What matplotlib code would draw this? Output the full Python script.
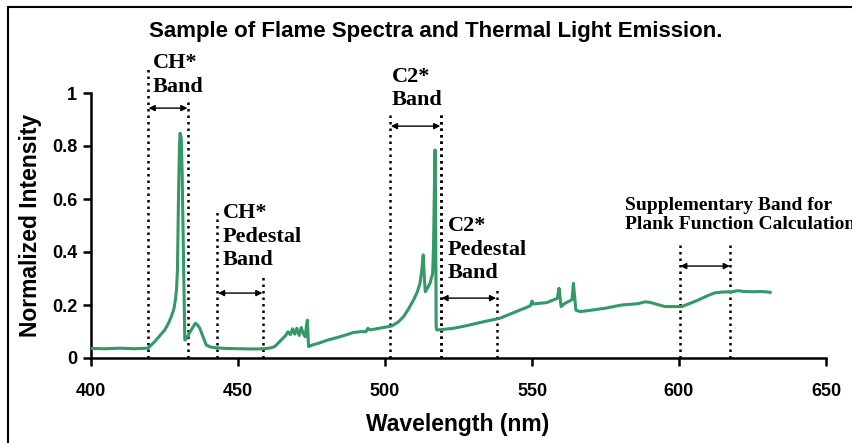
import matplotlib.pyplot as plt
from matplotlib.patches import Rectangle

# spectrum (nm, normalized intensity)
wavelength = [400, 405, 410, 415, 419.4, 421.7, 423.5, 425.1, 426.3, 427.3, 428.2, 428.7,
              429.1, 429.4, 429.8, 430.1, 430.3, 430.7, 431.0, 431.4, 431.9, 432.4,
              432.8, 433.5, 434.1, 435.0, 435.5, 436.2, 437.0, 438.1, 439.2, 440.5,
              442.0, 446, 450, 455, 459, 461, 462.5, 464.7, 466.2, 467.0, 467.8,
              468.6, 469.3, 470.0, 470.8, 471.5, 472.2, 472.9, 473.3, 473.6, 474.0,
              475.5, 477.2, 480.6, 484, 487, 489.2, 492, 493.5, 494.2, 494.9, 498,
              502.3, 504.5, 506.3, 508, 509.7, 511.0, 511.9, 512.5, 513.0, 513.4,
              513.7, 514.5, 515.3, 516.2, 516.5, 516.7, 517.0, 517.2, 517.4, 517.6,
              520, 523.2, 526, 528.9, 534, 539.1, 543, 545.9, 548, 549.5, 550.0, 550.4,
              553, 555, 557.2, 558.6, 559.2, 559.9, 561, 562.4, 563.6, 564.1, 564.9,
              566.3, 569.2, 575, 580.5, 586, 588.5, 590.1, 592, 595.2, 600.9, 603.5,
              606.6, 609.5, 612.2, 615, 617.9, 620, 622, 625.9, 628, 631]
intensity = [0.036, 0.035, 0.037, 0.035, 0.037, 0.062, 0.085, 0.106, 0.130, 0.156, 0.185, 0.219,
             0.260, 0.332, 0.634, 0.800, 0.848, 0.830, 0.700, 0.430, 0.068, 0.072,
             0.080, 0.095, 0.106, 0.122, 0.131, 0.125, 0.112, 0.080, 0.049, 0.042,
             0.039, 0.036, 0.035, 0.034, 0.035, 0.038, 0.043, 0.068, 0.085, 0.099, 0.088,
             0.110, 0.090, 0.112, 0.085, 0.115, 0.092, 0.080, 0.125, 0.143, 0.043,
             0.050, 0.055, 0.068, 0.078, 0.088, 0.096, 0.100, 0.099, 0.112, 0.106, 0.112,
             0.121, 0.136, 0.156, 0.185, 0.219, 0.250, 0.282, 0.330, 0.389, 0.300,
             0.250, 0.265, 0.282, 0.319, 0.420, 0.558, 0.785, 0.600, 0.118, 0.106,
             0.108, 0.112, 0.118, 0.125, 0.138, 0.150, 0.168, 0.181, 0.190, 0.198, 0.215, 0.204,
             0.207, 0.209, 0.219, 0.225, 0.263, 0.194, 0.205, 0.213, 0.220, 0.282, 0.181,
             0.175, 0.179, 0.188, 0.200, 0.205, 0.212, 0.210, 0.204, 0.194, 0.194, 0.205,
             0.219, 0.234, 0.246, 0.249, 0.250, 0.254, 0.251, 0.250, 0.251, 0.248]

# bands: (left edge, right edge, top of left line, top of right line, arrow height)
band_left = [419.4, 443.0, 501.8, 519.0, 600.2]
band_right = [433.0, 458.5, 519.0, 538.0, 617.5]
top_left = [1.10, 0.55, 0.93, 0.93, 0.435]
top_right = [0.975, 0.315, 0.93, 0.26, 0.435]
arrow_y = [0.943, 0.245, 0.875, 0.226, 0.347]

labels = ["CH*\nBand", "CH*\nPedestal\nBand", "C2*\nBand", "C2*\nPedestal\nBand",
          "Supplementary Band for\nPlank Function Calculation"]
label_x = [421.0, 444.8, 502.3, 521.3, 581.6]
label_y = [1.15, 0.585, 1.10, 0.536, 0.608]
label_size = [16, 16, 16, 16, 14]
label_spacing = [1.25, 1.25, 1.25, 1.25, 1.15]

sans = "Liberation Sans"
serif = "Liberation Serif"

fig = plt.figure(figsize=(8.52, 4.43), dpi=100)
ax = fig.add_axes([91 / 852, 1 - 358 / 443, 735 / 852, 265 / 443])

ax.plot(wavelength, intensity, color="#339966", lw=2.2, zorder=3)

for i in range(len(band_left)):
    ax.plot([band_left[i], band_left[i]], [0, top_left[i]], color="black",
            ls=(0, (1, 1.6)), lw=1.8, clip_on=False, zorder=2)
    ax.plot([band_right[i], band_right[i]], [0, top_right[i]], color="black",
            ls=(0, (1, 1.6)), lw=1.8, clip_on=False, zorder=2)
    ax.annotate("", xy=(band_left[i] + 0.2, arrow_y[i]), xytext=(band_right[i] - 0.2, arrow_y[i]),
                arrowprops=dict(arrowstyle="<|-|>", color="black", lw=1.0,
                                mutation_scale=9, shrinkA=0, shrinkB=0),
                annotation_clip=False)
    ax.text(label_x[i], label_y[i], labels[i], ha="left", va="top",
            fontsize=label_size[i], fontweight="bold", family=serif,
            linespacing=label_spacing[i], clip_on=False)

ax.set_xlim(400, 650)
ax.set_ylim(0, 1)
ax.set_xticks([400, 450, 500, 550, 600, 650])
ax.set_yticks([0, 0.2, 0.4, 0.6, 0.8, 1])
ax.set_yticklabels(["0", "0.2", "0.4", "0.6", "0.8", "1"])
for s in ["top", "right"]:
    ax.spines[s].set_visible(False)
for s in ["left", "bottom"]:
    ax.spines[s].set_linewidth(1.8)
ax.tick_params(axis="both", length=6, width=1.8, labelsize=13)
ax.tick_params(axis="x", pad=12)
ax.tick_params(axis="y", pad=4)
for t in ax.get_xticklabels() + ax.get_yticklabels():
    t.set_fontweight("bold")
    t.set_family(sans)

fig.text(436 / 852, 1 - 32 / 443, "Sample of Flame Spectra and Thermal Light Emission.",
         ha="center", va="center", fontsize=16, fontweight="bold", family=sans)
fig.text(31 / 852, 1 - 225 / 443, "Normalized Intensity", rotation=90,
         ha="center", va="center", fontsize=16.5, fontweight="bold", family=sans)
fig.text(458 / 852, 1 - 425 / 443, "Wavelength (nm)",
         ha="center", va="center", fontsize=16.5, fontweight="bold", family=sans)

# outer frame of the chart (only top and left edges fall inside the picture)
fig.patches.append(Rectangle((8 / 852, -0.5), 2, 0.5 + 1 - 7 / 443, transform=fig.transFigure,
                             fill=False, lw=1.5, ec="black"))

fig.savefig("out.png", dpi=100)
